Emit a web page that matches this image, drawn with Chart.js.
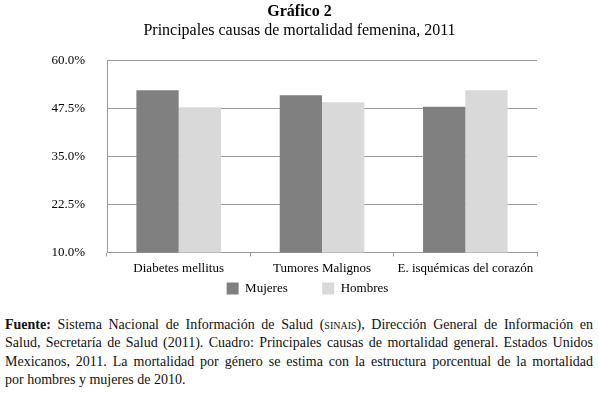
<!DOCTYPE html>
<html>
<head>
<meta charset="utf-8">
<script src="https://cdn.jsdelivr.net/npm/chart.js@4.4.1/dist/chart.umd.min.js"></script>
<style>
  html, body { margin: 0; padding: 0; background: #fff; }
  body { width: 599px; height: 393px; position: relative; overflow: hidden; font-family: "Liberation Serif", serif; }
  #wrap { position: absolute; left: 0; top: 0; width: 599px; height: 305px; }
  #fuente { position: absolute; left: 5px; top: 316px; width: 588px; font-size: 14px; line-height: 18.3px; color: #111; }
  #fuente div { text-align: justify; text-align-last: justify; }
  #fuente div.last { text-align-last: left; }
  .sc { font-variant: small-caps; }
</style>
</head>
<body>
<div id="wrap"><canvas id="chart"></canvas></div>
<div id="fuente">
  <div><b>Fuente:</b> Sistema Nacional de Información de Salud (<span class="sc">sinais</span>), Dirección General de Información en</div>
  <div>Salud, Secretaría de Salud (2011). Cuadro: Principales causas de mortalidad general. Estados Unidos</div>
  <div>Mexicanos, 2011. La mortalidad por género se estima con la estructura porcentual de la mortalidad</div>
  <div class="last">por hombres y mujeres de 2010.</div>
</div>
<script>
const causas = ['Diabetes mellitus', 'Tumores Malignos', 'E. isquémicas del corazón'];
const mujeres = [52.2, 50.9, 47.9];
const hombres = [47.8, 49.1, 52.2];
const yMin = 10, yMax = 60, yStep = 12.5;

const gridGray = '#9a9a9a';
const serif = '"Liberation Serif", serif';

// nudge the boxes that are centred on the padded width back to where the original has them
function shiftBox(box, dx) {
    if (!box) return;
    box.left += dx;
    box.right += dx;
}
const boxShift = {
    id: 'boxShift',
    afterLayout(chart) {
        shiftBox(chart.legend, 14);
        shiftBox(chart.titleBlock, 6);
        chart.boxes.filter(b => b !== chart.titleBlock && b.options && b.options.text === chart.options.plugins.subtitle.text)
            .forEach(b => shiftBox(b, 6));
    }
};

function initChart() {
    const ctx = document.getElementById('chart').getContext('2d');
    const baseLabels = Chart.defaults.plugins.legend.labels.generateLabels;

    new Chart(ctx, {
        type: 'bar',
        data: {
            labels: causas,
            datasets: [{
                label: 'Mujeres',
                data: mujeres,
                backgroundColor: '#808080'
            }, {
                label: 'Hombres',
                data: hombres,
                backgroundColor: '#d9d9d9'
            }]
        },
        options: {
            responsive: true,
            maintainAspectRatio: false,
            animation: false,
            layout: { padding: { left: 50, right: 62, top: 0, bottom: 0 } },
            datasets: { bar: { categoryPercentage: 0.59, barPercentage: 1.0 } },
            scales: {
                x: {
                    grid: { display: true, drawOnChartArea: false, drawTicks: true, tickLength: 4, color: gridGray, offset: true },
                    border: { color: gridGray },
                    ticks: { color: '#000', font: { family: serif, size: 13 }, padding: 4, maxRotation: 0 }
                },
                y: {
                    min: yMin,
                    max: yMax,
                    afterFit: scale => { scale.width = 107 - 50; },
                    grid: { color: gridGray, drawTicks: false },
                    border: { color: gridGray },
                    ticks: {
                        stepSize: yStep,
                        color: '#000',
                        font: { family: serif, size: 13 },
                        padding: 22,
                        callback: v => v.toFixed(1) + '%'
                    }
                }
            },
            plugins: {
                title: {
                    display: true,
                    text: 'Gráfico 2',
                    color: '#000',
                    font: { family: serif, size: 16, weight: 'bold' },
                    padding: { top: 2, bottom: 0 }
                },
                subtitle: {
                    display: true,
                    text: 'Principales causas de mortalidad femenina, 2011',
                    color: '#000',
                    font: { family: serif, size: 16 },
                    padding: { top: 0, bottom: 20 }
                },
                legend: {
                    position: 'bottom',
                    labels: {
                        color: '#000',
                        boxWidth: 12,
                        boxHeight: 12,
                        padding: 2,
                        font: { family: serif, size: 13 },
                        generateLabels: chart => baseLabels(chart).map((item, i) =>
                            i === 0 ? { ...item, text: item.text + ' '.repeat(10) } : item)
                    }
                },
                tooltip: { enabled: false }
            }
        },
        plugins: [boxShift]
    });
}

document.addEventListener('DOMContentLoaded', initChart);
</script>
</body>
</html>
